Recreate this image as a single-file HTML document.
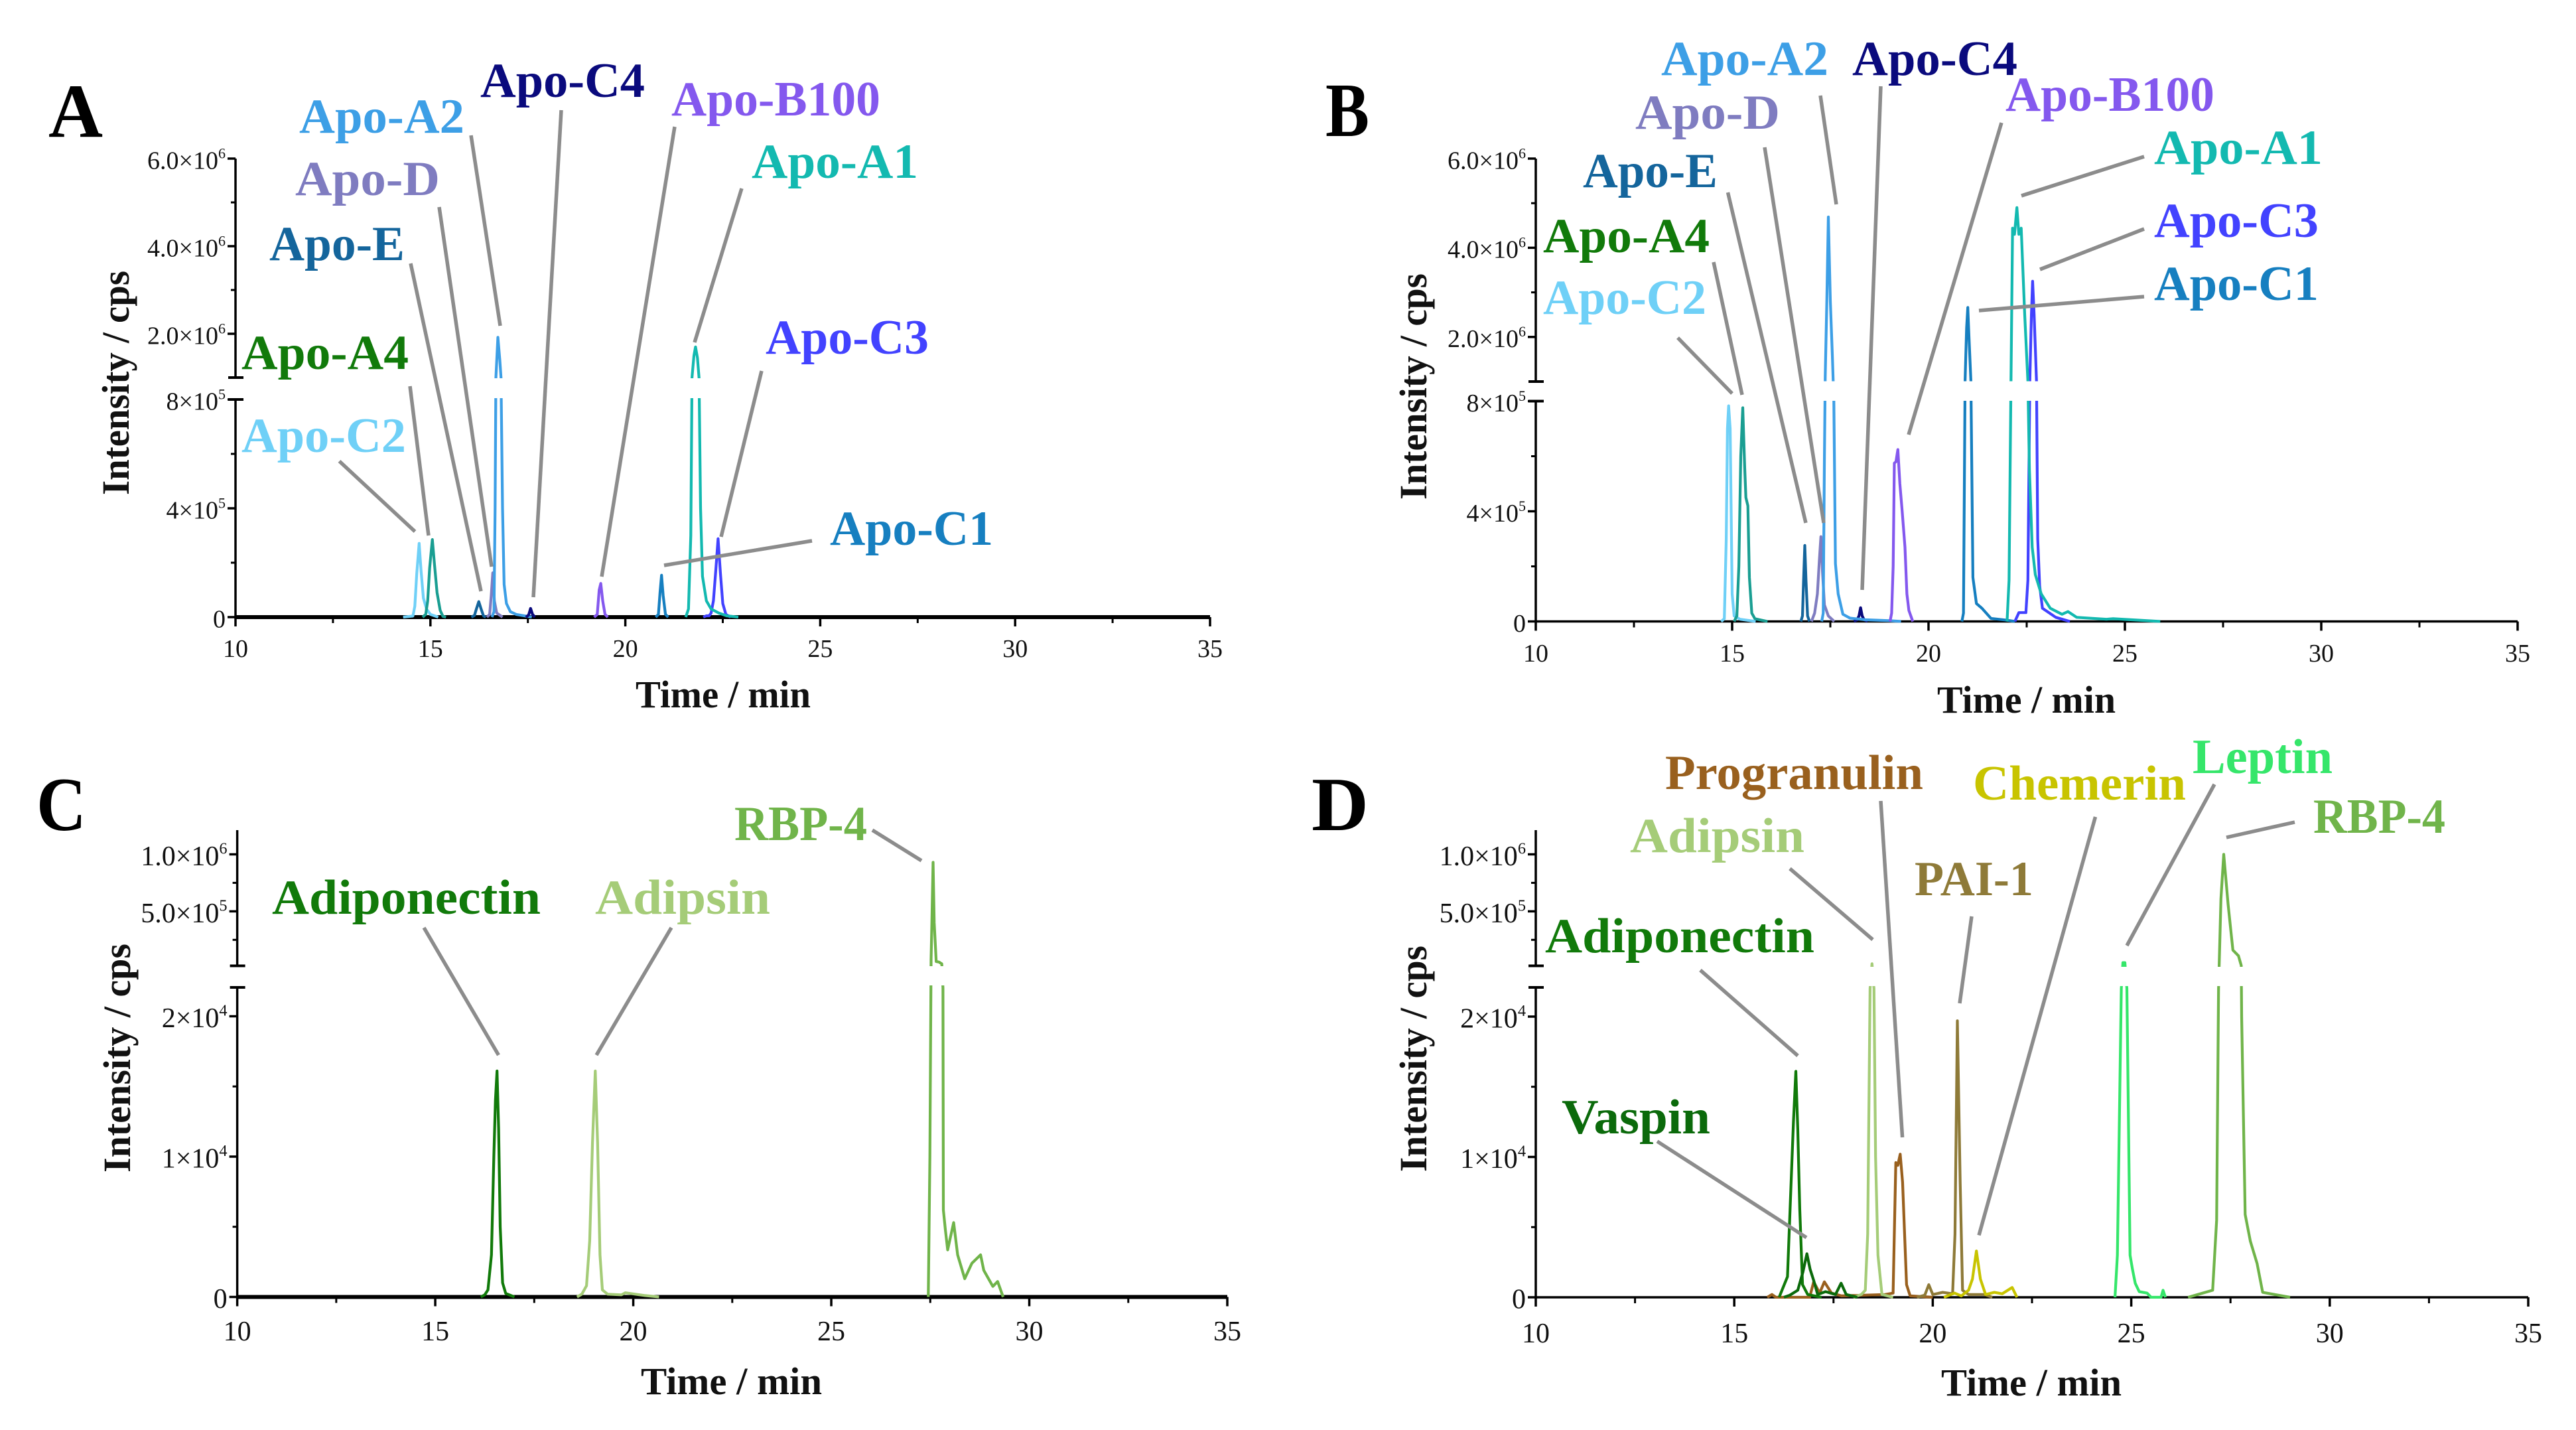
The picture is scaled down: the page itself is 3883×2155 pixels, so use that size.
<!DOCTYPE html>
<html lang="en">
<head>
<meta charset="utf-8">
<title>Chromatograms of apolipoproteins and adipokines</title>
<style>
html,body{margin:0;padding:0;background:#fff;}
svg{display:block;}
text{font-family:"Liberation Serif",serif;}
.lab{font-size:74px;font-weight:bold;}
.let{font-size:115px;font-weight:bold;fill:#000;}
.ttl{font-size:58px;font-weight:bold;fill:#111;}
.lead{stroke:#8c8c8c;stroke-width:5.5;fill:none;}
</style>
</head>
<body>
<svg id="figure" xmlns="http://www.w3.org/2000/svg" width="3883" height="2155" viewBox="0 0 3883 2155">
<rect x="0" y="0" width="3883" height="2155" fill="#fff"/>
<defs id="clips"></defs>
<g id="panel-a"></g>
<g id="panel-b"></g>
<g id="panel-c"></g>
<g id="panel-d"></g>

<g>
<text class="let" x="73" y="206" textLength="82" lengthAdjust="spacingAndGlyphs">A</text>
<text class="let" x="1998" y="205" textLength="66" lengthAdjust="spacingAndGlyphs">B</text>
<text class="let" x="55" y="1251" textLength="75" lengthAdjust="spacingAndGlyphs">C</text>
<text class="let" x="1977" y="1251" textLength="86" lengthAdjust="spacingAndGlyphs">D</text>
</g>

<g>
<text class="ttl" x="958" y="1066" textLength="264" lengthAdjust="spacingAndGlyphs">Time / min</text>
<text class="ttl" x="2920" y="1074" textLength="269" lengthAdjust="spacingAndGlyphs">Time / min</text>
<text class="ttl" x="966" y="2101" textLength="273" lengthAdjust="spacingAndGlyphs">Time / min</text>
<text class="ttl" x="2926" y="2103" textLength="272" lengthAdjust="spacingAndGlyphs">Time / min</text>
<text class="ttl" transform="translate(194,746) rotate(-90)" textLength="338" lengthAdjust="spacingAndGlyphs">Intensity / cps</text>
<text class="ttl" transform="translate(2150,753) rotate(-90)" textLength="341" lengthAdjust="spacingAndGlyphs">Intensity / cps</text>
<text class="ttl" transform="translate(196,1767) rotate(-90)" textLength="345" lengthAdjust="spacingAndGlyphs">Intensity / cps</text>
<text class="ttl" transform="translate(2150,1766) rotate(-90)" textLength="341" lengthAdjust="spacingAndGlyphs">Intensity / cps</text>
</g>

<g>
<line class="lead" x1="511.5" y1="695" x2="625.5" y2="801"/>
<line class="lead" x1="618" y1="582" x2="646" y2="807"/>
<line class="lead" x1="619" y1="397" x2="725" y2="891"/>
<line class="lead" x1="662" y1="312" x2="741" y2="854"/>
<line class="lead" x1="710" y1="204" x2="754" y2="491"/>
<line class="lead" x1="846" y1="166" x2="804" y2="900"/>
<line class="lead" x1="1017" y1="191" x2="907" y2="869"/>
<line class="lead" x1="1118" y1="284" x2="1047" y2="516"/>
<line class="lead" x1="1148" y1="559" x2="1087" y2="809"/>
<line class="lead" x1="1224" y1="815" x2="1001" y2="852"/>
</g>
<g>
<line class="lead" x1="2529" y1="509" x2="2611" y2="593"/>
<line class="lead" x1="2583" y1="395" x2="2626" y2="595"/>
<line class="lead" x1="2604.5" y1="290" x2="2722" y2="788"/>
<line class="lead" x1="2660" y1="222" x2="2749" y2="788"/>
<line class="lead" x1="2744" y1="144" x2="2768" y2="308"/>
<line class="lead" x1="2835" y1="130" x2="2807" y2="889"/>
<line class="lead" x1="3017" y1="185" x2="2877" y2="655"/>
<line class="lead" x1="3232" y1="236" x2="3047" y2="295"/>
<line class="lead" x1="3232" y1="345" x2="3075" y2="406"/>
<line class="lead" x1="3232" y1="447" x2="2983" y2="468"/>
</g>
<g>
<line class="lead" x1="1315" y1="1251" x2="1389" y2="1297"/>
<line class="lead" x1="639" y1="1398" x2="751.5" y2="1590"/>
<line class="lead" x1="1012" y1="1398" x2="899" y2="1590"/>
</g>
<g>
<line class="lead" x1="3459" y1="1239" x2="3356" y2="1262"/>
<line class="lead" x1="3338" y1="1182" x2="3206" y2="1425"/>
<line class="lead" x1="3158.5" y1="1231" x2="2983" y2="1861.5"/>
<line class="lead" x1="2835" y1="1207" x2="2867.6" y2="1714"/>
<line class="lead" x1="2972" y1="1381" x2="2954" y2="1512"/>
<line class="lead" x1="2698" y1="1309" x2="2823" y2="1416"/>
<line class="lead" x1="2563" y1="1462" x2="2710" y2="1591"/>
<line class="lead" x1="2498" y1="1720" x2="2723" y2="1865"/>
</g>

<g>
<text class="lab" fill="#0a0a7d" x="724" y="146" textLength="248" lengthAdjust="spacingAndGlyphs">Apo-C4</text>
<text class="lab" fill="#3d9fe6" x="451" y="200" textLength="249" lengthAdjust="spacingAndGlyphs">Apo-A2</text>
<text class="lab" fill="#8458ee" x="1012" y="174" textLength="315" lengthAdjust="spacingAndGlyphs">Apo-B100</text>
<text class="lab" fill="#7f7cc0" x="445" y="294" textLength="218" lengthAdjust="spacingAndGlyphs">Apo-D</text>
<text class="lab" fill="#13b9b0" x="1133" y="268" textLength="251" lengthAdjust="spacingAndGlyphs">Apo-A1</text>
<text class="lab" fill="#14659c" x="406" y="392" textLength="204" lengthAdjust="spacingAndGlyphs">Apo-E</text>
<text class="lab" fill="#117a0a" x="364" y="556" textLength="252" lengthAdjust="spacingAndGlyphs">Apo-A4</text>
<text class="lab" fill="#4242ff" x="1154" y="533" textLength="246" lengthAdjust="spacingAndGlyphs">Apo-C3</text>
<text class="lab" fill="#6fd0f7" x="364" y="681" textLength="248" lengthAdjust="spacingAndGlyphs">Apo-C2</text>
<text class="lab" fill="#167fc0" x="1251" y="821" textLength="246" lengthAdjust="spacingAndGlyphs">Apo-C1</text>
</g>
<g>
<text class="lab" fill="#3d9fe6" x="2504" y="113" textLength="252" lengthAdjust="spacingAndGlyphs">Apo-A2</text>
<text class="lab" fill="#0a0a7d" x="2792" y="113" textLength="249" lengthAdjust="spacingAndGlyphs">Apo-C4</text>
<text class="lab" fill="#8458ee" x="3023" y="167" textLength="315" lengthAdjust="spacingAndGlyphs">Apo-B100</text>
<text class="lab" fill="#7f7cc0" x="2465" y="194" textLength="218" lengthAdjust="spacingAndGlyphs">Apo-D</text>
<text class="lab" fill="#13b9b0" x="3247" y="247" textLength="254" lengthAdjust="spacingAndGlyphs">Apo-A1</text>
<text class="lab" fill="#14659c" x="2386" y="282" textLength="203" lengthAdjust="spacingAndGlyphs">Apo-E</text>
<text class="lab" fill="#117a0a" x="2326" y="380" textLength="251" lengthAdjust="spacingAndGlyphs">Apo-A4</text>
<text class="lab" fill="#4242ff" x="3247" y="357" textLength="248" lengthAdjust="spacingAndGlyphs">Apo-C3</text>
<text class="lab" fill="#6fd0f7" x="2326" y="473" textLength="246" lengthAdjust="spacingAndGlyphs">Apo-C2</text>
<text class="lab" fill="#167fc0" x="3247" y="452" textLength="248" lengthAdjust="spacingAndGlyphs">Apo-C1</text>
</g>
<g>
<text class="lab" fill="#70b44a" x="1107" y="1266" textLength="200" lengthAdjust="spacingAndGlyphs">RBP-4</text>
<text class="lab" fill="#117a0a" x="410" y="1377" textLength="405" lengthAdjust="spacingAndGlyphs">Adiponectin</text>
<text class="lab" fill="#a5cc78" x="897" y="1377" textLength="264" lengthAdjust="spacingAndGlyphs">Adipsin</text>
</g>
<g>
<text class="lab" fill="#99601e" x="2510" y="1189" textLength="389" lengthAdjust="spacingAndGlyphs">Progranulin</text>
<text class="lab" fill="#c8c400" x="2974" y="1205" textLength="321" lengthAdjust="spacingAndGlyphs">Chemerin</text>
<text class="lab" fill="#35e66a" x="3305" y="1165" textLength="211" lengthAdjust="spacingAndGlyphs">Leptin</text>
<text class="lab" fill="#70b44a" x="3487" y="1255" textLength="199" lengthAdjust="spacingAndGlyphs">RBP-4</text>
<text class="lab" fill="#a5cc78" x="2457" y="1284" textLength="263" lengthAdjust="spacingAndGlyphs">Adipsin</text>
<text class="lab" fill="#8e7a38" x="2886" y="1349" textLength="179" lengthAdjust="spacingAndGlyphs">PAI-1</text>
<text class="lab" fill="#117a0a" x="2329" y="1435" textLength="406" lengthAdjust="spacingAndGlyphs">Adiponectin</text>
<text class="lab" fill="#0b6a0b" x="2354" y="1708" textLength="224" lengthAdjust="spacingAndGlyphs">Vaspin</text>
</g>
</svg>

<script>
// ---------- shared x axis ----------
const timeMajorTicks = [10, 15, 20, 25, 30, 35];
const timeMinorTicks = [12.5, 17.5, 22.5, 27.5, 32.5];

// ---------- y tick values and labels ----------
const abLowerTicks = [0, 400000, 800000];
const abLowerLabels = ['0', '4×10', '8×10'];
const abLowerExponents = ['', '5', '5'];
const abLowerMinor = [200000, 600000];
const abUpperTicks = [2000000, 4000000, 6000000];
const abUpperLabels = ['2.0×10', '4.0×10', '6.0×10'];
const abUpperExponents = ['6', '6', '6'];
const abUpperMinor = [3000000, 5000000];
const cdLowerTicks = [0, 10000, 20000];
const cdLowerLabels = ['0', '1×10', '2×10'];
const cdLowerExponents = ['', '4', '4'];
const cdLowerMinor = [5000, 15000];
const cdUpperTicks = [500000, 1000000];
const cdUpperLabels = ['5.0×10', '1.0×10'];
const cdUpperExponents = ['5', '6'];
const cdUpperMinor = [250000, 750000];

// ---------- panel A series ----------
const aC2Time = [14.3, 14.55, 14.6, 14.65, 14.71, 14.76, 14.82, 14.9, 15.0, 15.2];
const aC2Intensity = [0, 4000, 40000, 160000, 271000, 170000, 70000, 30000, 10000, 0];
const aA4Time = [14.8, 14.88, 14.93, 14.98, 15.05, 15.1, 15.17, 15.25, 15.32, 15.4];
const aA4Intensity = [0, 10000, 60000, 180000, 285000, 200000, 90000, 25000, 3000, 0];
const aETime = [16.05, 16.13, 16.18, 16.24, 16.3, 16.36, 16.42];
const aEIntensity = [0, 6000, 30000, 57000, 30000, 5000, 0];
const aDTime = [16.45, 16.52, 16.56, 16.6, 16.64, 16.7, 16.85];
const aDIntensity = [0, 10000, 80000, 163000, 60000, 15000, 0];
const aA2Time = [16.58, 16.63, 16.66, 16.68, 16.73, 16.78, 16.81, 16.85, 16.89, 16.95, 17.05, 17.2, 17.6];
const aA2Intensity = [0, 20000, 400000, 1000000, 1920000, 1400000, 1000000, 400000, 120000, 50000, 20000, 10000, 0];
const aC4Time = [17.45, 17.52, 17.57, 17.62, 17.68];
const aC4Intensity = [0, 8000, 32000, 10000, 0];
const aB100Time = [19.2, 19.28, 19.33, 19.37, 19.42, 19.48, 19.55];
const aB100Intensity = [0, 10000, 100000, 124000, 60000, 10000, 0];
const aC1Time = [20.78, 20.85, 20.89, 20.93, 20.97, 21.03, 21.1];
const aC1Intensity = [0, 10000, 90000, 154000, 80000, 10000, 0];
const aA1Time = [21.55, 21.62, 21.68, 21.71, 21.76, 21.8, 21.85, 21.89, 21.93, 21.98, 22.08, 22.2, 22.4, 22.6, 22.9];
const aA1Intensity = [0, 30000, 300000, 1000000, 1500000, 1700000, 1450000, 1000000, 400000, 150000, 60000, 30000, 15000, 5000, 0];
const aC3Time = [22.0, 22.08, 22.15, 22.2, 22.26, 22.32, 22.38, 22.44, 22.5, 22.58, 22.7];
const aC3Intensity = [0, 5000, 5000, 15000, 60000, 170000, 288000, 160000, 50000, 10000, 0];

// ---------- panel B series ----------
const bC2Time = [14.72, 14.8, 14.85, 14.88, 14.91, 14.95, 15.0, 15.05, 15.2, 15.6];
const bC2Intensity = [0, 10000, 300000, 700000, 783000, 700000, 100000, 20000, 8000, 0];
const bA4Time = [15.05, 15.12, 15.17, 15.22, 15.27, 15.32, 15.35, 15.4, 15.44, 15.5, 15.58, 15.9];
const bA4Intensity = [0, 20000, 200000, 600000, 776000, 560000, 450000, 420000, 160000, 30000, 10000, 0];
const bETime = [16.75, 16.79, 16.82, 16.85, 16.88, 16.92, 16.97];
const bEIntensity = [0, 20000, 150000, 276000, 150000, 20000, 0];
const bDTime = [17.02, 17.1, 17.17, 17.22, 17.26, 17.3, 17.35, 17.45, 17.6];
const bDIntensity = [0, 30000, 100000, 220000, 308000, 180000, 60000, 20000, 0];
const bA2Time = [17.28, 17.32, 17.35, 17.37, 17.41, 17.45, 17.5, 17.55, 17.59, 17.63, 17.7, 17.82, 18, 18.4, 19, 19.3];
const bA2Intensity = [0, 30000, 600000, 1100000, 2800000, 4690000, 2800000, 1600000, 800000, 210000, 100000, 26000, 12000, 6000, 3000, 0];
const bC4Time = [18.1, 18.18, 18.23, 18.27, 18.31, 18.36, 18.45];
const bC4Intensity = [0, 6000, 20000, 50000, 20000, 6000, 0];
const bB100Time = [19.02, 19.06, 19.1, 19.13, 19.17, 19.22, 19.27, 19.33, 19.4, 19.45, 19.5, 19.6];
const bB100Intensity = [0, 30000, 200000, 575000, 580000, 624000, 500000, 400000, 270000, 100000, 40000, 0];
const bC1Time = [20.85, 20.89, 20.93, 20.97, 21.0, 21.03, 21.08, 21.13, 21.22, 21.36, 21.59, 21.97, 22.2];
const bC1Intensity = [0, 30000, 1000000, 2200000, 2660000, 2000000, 1000000, 160000, 65000, 48000, 11000, 5000, 0];
const bA1Time = [22.0, 22.05, 22.1, 22.14, 22.19, 22.25, 22.3, 22.36, 22.45, 22.53, 22.57, 22.64, 22.72, 22.87, 23.1, 23.4, 23.55, 23.77, 24.53, 24.7, 25.9];
const bA1Intensity = [0, 150000, 1000000, 4440000, 4300000, 4900000, 4300000, 4440000, 2500000, 1000000, 550000, 270000, 170000, 100000, 48000, 26000, 36000, 15000, 8000, 10000, 0];
const bC3Time = [22.2, 22.3, 22.48, 22.53, 22.58, 22.62, 22.65, 22.69, 22.75, 22.78, 22.83, 22.9, 23.24, 23.6];
const bC3Intensity = [0, 32000, 32000, 150000, 1000000, 2500000, 3250000, 2500000, 1000000, 300000, 130000, 48000, 15000, 0];

// ---------- panel C series ----------
const cAdiponectinTime = [16.15, 16.25, 16.33, 16.42, 16.48, 16.52, 16.56, 16.6, 16.64, 16.7, 16.78, 17.0];
const cAdiponectinIntensity = [0, 150, 500, 3000, 10000, 14000, 16100, 12000, 5000, 1000, 250, 0];
const cAdipsinTime = [18.58, 18.7, 18.82, 18.9, 18.97, 19.04, 19.1, 19.16, 19.22, 19.35, 19.7, 19.8, 20.3, 20.65];
const cAdipsinIntensity = [0, 200, 800, 4000, 11000, 16100, 11000, 3000, 500, 200, 150, 300, 100, 0];
const cRbp4Time = [27.45, 27.49, 27.52, 27.54, 27.57, 27.6, 27.65, 27.72, 27.79, 27.82, 27.83, 27.88, 27.94, 28.09, 28.19, 28.37, 28.55, 28.77, 28.85, 29.08, 29.2, 29.34];
const cRbp4Intensity = [0, 10000, 80000, 400000, 930000, 400000, 60000, 55000, 40000, 22000, 6200, 4800, 3350, 5300, 3000, 1300, 2400, 3000, 1900, 750, 1100, 0];

// ---------- panel D series ----------
const dProgranulinTime = [15.83, 15.95, 16.05, 16.9, 17.0, 17.15, 17.27, 17.45, 17.7, 18.8, 19.0, 19.07, 19.12, 19.18, 19.24, 19.34, 19.43, 20.0];
const dProgranulinIntensity = [0, 200, 0, 0, 1100, 300, 1100, 300, 100, 200, 300, 9600, 9400, 10200, 8200, 900, 100, 0];
const dAdiponectinTime = [16.13, 16.34, 16.43, 16.49, 16.55, 16.6, 16.65, 16.72, 16.85, 17.2];
const dAdiponectinIntensity = [0, 1470, 8100, 12500, 16100, 12000, 6300, 900, 200, 0];
const dVaspinTime = [16.25, 16.4, 16.6, 16.73, 16.83, 16.91, 17.0, 17.1, 17.3, 17.55, 17.69, 17.82, 18.1];
const dVaspinIntensity = [0, 150, 500, 1800, 3100, 2000, 1200, 200, 400, 200, 1000, 200, 0];
const dAdipsinTime = [18.0, 18.2, 18.3, 18.36, 18.42, 18.47, 18.52, 18.56, 18.62, 18.72, 19.0];
const dAdipsinIntensity = [0, 200, 500, 4500, 22000, 40000, 22000, 10000, 3000, 200, 0];
const dPai1Time = [19.6, 19.8, 19.9, 20.0, 20.25, 20.5, 20.56, 20.62, 20.69, 20.75, 20.9, 21.3, 21.5];
const dPai1Intensity = [0, 150, 900, 200, 350, 250, 4500, 19700, 8200, 500, 200, 200, 0];
const dChemerinTime = [20.28, 20.55, 20.72, 20.9, 21.0, 21.1, 21.2, 21.33, 21.55, 21.75, 22.0, 22.12];
const dChemerinIntensity = [0, 300, 100, 500, 1300, 3300, 1300, 200, 350, 250, 700, 0];
const dLeptinTime = [24.59, 24.65, 24.75, 24.79, 24.84, 24.89, 24.97, 25.03, 25.1, 25.2, 25.4, 25.5, 25.75, 25.8, 25.86];
const dLeptinIntensity = [0, 3000, 22000, 50000, 50000, 22000, 3000, 2000, 1000, 400, 300, 0, 0, 500, 0];
const dRbp4Time = [26.43, 26.8, 27.05, 27.15, 27.2, 27.26, 27.33, 27.44, 27.56, 27.7, 27.77, 27.78, 27.87, 28.0, 28.17, 28.31, 29.0];
const dRbp4Intensity = [0, 300, 500, 5500, 22000, 610000, 1000000, 560000, 160000, 110000, 25000, 20000, 5900, 4000, 2400, 350, 0];

// ---------- panel layouts ----------
const SVGNS = 'http://www.w3.org/2000/svg';
const panelA = {id: 'a', x10: 355, x35: 1824, y0: 930, lowerScale: 328 / 800000, lowerMax: 800000, lowerTopY: 602,
  upperMin: 1000000, upperBottomY: 569, upperScale: 66 / 1000000, upperTopY: 239, clipLow: 600, clipUp: 570,
  baseWidth: 6, fontSize: 38, tickBaseline: 990, lowerTicks: abLowerTicks, lowerLabels: abLowerLabels, lowerExp: abLowerExponents,
  lowerMinor: abLowerMinor, upperTicks: abUpperTicks, upperLabels: abUpperLabels, upperExp: abUpperExponents, upperMinor: abUpperMinor};
const panelB = {id: 'b', x10: 2315, x35: 3795, y0: 936.5, lowerScale: 332 / 800000, lowerMax: 800000, lowerTopY: 604.5,
  upperMin: 1000000, upperBottomY: 575, upperScale: 67.2 / 1000000, upperTopY: 239, clipLow: 604, clipUp: 574.5,
  baseWidth: 3.5, fontSize: 38, tickBaseline: 997, lowerTicks: abLowerTicks, lowerLabels: abLowerLabels, lowerExp: abLowerExponents,
  lowerMinor: abLowerMinor, upperTicks: abUpperTicks, upperLabels: abUpperLabels, upperExp: abUpperExponents, upperMinor: abUpperMinor};
const panelC = {id: 'c', x10: 357.6, x35: 1850, y0: 1954.5, lowerScale: 211.5 / 10000, lowerMax: 22000, lowerTopY: 1488,
  upperMin: 22000, upperBottomY: 1455.5, upperScale: 171.8 / 1000000, upperTopY: 1251, clipLow: 1485, clipUp: 1456,
  baseWidth: 6, fontSize: 42, tickBaseline: 2020, lowerTicks: cdLowerTicks, lowerLabels: cdLowerLabels, lowerExp: cdLowerExponents,
  lowerMinor: cdLowerMinor, upperTicks: cdUpperTicks, upperLabels: cdUpperLabels, upperExp: cdUpperExponents, upperMinor: cdUpperMinor};
const panelD = {id: 'd', x10: 2315, x35: 3811, y0: 1955, lowerScale: 211.5 / 10000, lowerMax: 22000, lowerTopY: 1488,
  upperMin: 22000, upperBottomY: 1455.5, upperScale: 171.8 / 1000000, upperTopY: 1251, clipLow: 1486, clipUp: 1457,
  baseWidth: 3.5, fontSize: 42, tickBaseline: 2023, lowerTicks: cdLowerTicks, lowerLabels: cdLowerLabels, lowerExp: cdLowerExponents,
  lowerMinor: cdLowerMinor, upperTicks: cdUpperTicks, upperLabels: cdUpperLabels, upperExp: cdUpperExponents, upperMinor: cdUpperMinor};

// ---------- axis functions ----------
function xScale(p, t) {
  return p.x10 + (t - 10) * (p.x35 - p.x10) / 25;
}
function yScale(p, v) {
  if (v <= p.lowerMax) return p.y0 - v * p.lowerScale;
  if (v >= p.upperMin) return p.upperBottomY - (v - p.upperMin) * p.upperScale;
  const f = (v - p.lowerMax) / (p.upperMin - p.lowerMax);
  return p.lowerTopY + f * (p.upperBottomY - p.lowerTopY);
}
function shape(tag, attrs, parent) {
  const el = document.createElementNS(SVGNS, tag);
  for (const k in attrs) el.setAttribute(k, attrs[k]);
  parent.appendChild(el);
  return el;
}
function drawTickLabel(p, g, label, exponent, y, name) {
  const el = shape('text', {x: p.x10 - 15, y: y + p.fontSize * 0.35 + 2, 'text-anchor': 'end', fill: '#111', 'font-size': p.fontSize}, g);
  
  
  el.appendChild(document.createTextNode(label));
  if (exponent) {
    const sup = shape('tspan', {dy: -p.fontSize * 0.42, 'font-size': p.fontSize * 0.58}, el);
    sup.textContent = exponent;
  }
}
function drawAxes(p) {
  const g = document.getElementById('panel-' + p.id);
  const clip = shape('clipPath', {id: 'clip-' + p.id}, document.getElementById('clips'));
  shape('rect', {x: p.x10 - 4, y: p.upperTopY - 10, width: p.x35 - p.x10 + 8, height: p.clipUp - p.upperTopY + 10}, clip);
  shape('rect', {x: p.x10 - 4, y: p.clipLow, width: p.x35 - p.x10 + 8, height: p.y0 - p.clipLow + 2}, clip);

  const ax = shape('g', {}, g);
  
  
  const xLine = shape('line', {x1: p.x10, y1: p.y0, x2: p.x35, y2: p.y0, stroke: '#000', 'stroke-width': p.baseWidth}, ax);
  
  
  const yLow = shape('line', {x1: p.x10, y1: p.lowerTopY, x2: p.x10, y2: p.y0 + 2, stroke: '#000', 'stroke-width': 3.5}, ax);
  
  
  const yUp = shape('line', {x1: p.x10, y1: p.upperTopY, x2: p.x10, y2: p.upperBottomY, stroke: '#000', 'stroke-width': 3.5}, ax);
  
  
  const brkU = shape('line', {x1: p.x10 - 11, y1: p.upperBottomY, x2: p.x10 + 12, y2: p.upperBottomY, stroke: '#000', 'stroke-width': 4}, ax);
  
  
  const brkL = shape('line', {x1: p.x10 - 11, y1: p.lowerTopY, x2: p.x10 + 12, y2: p.lowerTopY, stroke: '#000', 'stroke-width': 4}, ax);
  
  

  timeMajorTicks.forEach(function (t) {
    const x = xScale(p, t);
    const tick = shape('line', {x1: x, y1: p.y0, x2: x, y2: p.y0 + 14, stroke: '#000', 'stroke-width': 3.5}, ax);
    
    
    const lab = shape('text', {x: x, y: p.tickBaseline, 'text-anchor': 'middle', fill: '#111', 'font-size': p.fontSize}, ax);
    
    
    lab.textContent = String(t);
  });
  timeMinorTicks.forEach(function (t) {
    const x = xScale(p, t);
    const tick = shape('line', {x1: x, y1: p.y0, x2: x, y2: p.y0 + 9, stroke: '#000', 'stroke-width': 3}, ax);
    
    
  });
  [[p.lowerTicks, p.lowerLabels, p.lowerExp], [p.upperTicks, p.upperLabels, p.upperExp]].forEach(function (set) {
    set[0].forEach(function (v, i) {
      const y = yScale(p, v);
      const tick = shape('line', {x1: p.x10 - 12, y1: y, x2: p.x10, y2: y, stroke: '#000', 'stroke-width': 3.5}, ax);
      
      
      drawTickLabel(p, ax, set[1][i], set[2][i], y, 'y-tick-label');
    });
  });
  p.lowerMinor.concat(p.upperMinor).forEach(function (v) {
    const y = yScale(p, v);
    const tick = shape('line', {x1: p.x10 - 7, y1: y, x2: p.x10, y2: y, stroke: '#000', 'stroke-width': 3}, ax);
    
    
  });
}
function drawSeries(p, name, color, times, values) {
  const g = document.getElementById('panel-' + p.id);
  const pts = times.map(function (t, i) {
    return xScale(p, t).toFixed(1) + ',' + yScale(p, values[i]).toFixed(1);
  }).join(' ');
  const line = shape('polyline', {points: pts, fill: 'none', stroke: color, 'stroke-width': 4.2, 'stroke-linejoin': 'round', 'clip-path': 'url(#clip-' + p.id + ')'}, g);
  
  
}

[panelA, panelB, panelC, panelD].forEach(drawAxes);

drawSeries(panelA, 'apo-c2', '#6fd0f7', aC2Time, aC2Intensity);
drawSeries(panelA, 'apo-a4', '#1a9e92', aA4Time, aA4Intensity);
drawSeries(panelA, 'apo-e', '#14659c', aETime, aEIntensity);
drawSeries(panelA, 'apo-d', '#7f7cc0', aDTime, aDIntensity);
drawSeries(panelA, 'apo-a2', '#3d9fe6', aA2Time, aA2Intensity);
drawSeries(panelA, 'apo-c4', '#0a0a7d', aC4Time, aC4Intensity);
drawSeries(panelA, 'apo-b100', '#8458ee', aB100Time, aB100Intensity);
drawSeries(panelA, 'apo-c1', '#167fc0', aC1Time, aC1Intensity);
drawSeries(panelA, 'apo-c3', '#4242ff', aC3Time, aC3Intensity);
drawSeries(panelA, 'apo-a1', '#13b9b0', aA1Time, aA1Intensity);

drawSeries(panelB, 'apo-c2', '#6fd0f7', bC2Time, bC2Intensity);
drawSeries(panelB, 'apo-a4', '#1a9e92', bA4Time, bA4Intensity);
drawSeries(panelB, 'apo-e', '#14659c', bETime, bEIntensity);
drawSeries(panelB, 'apo-d', '#7f7cc0', bDTime, bDIntensity);
drawSeries(panelB, 'apo-c4', '#0a0a7d', bC4Time, bC4Intensity);
drawSeries(panelB, 'apo-a2', '#3d9fe6', bA2Time, bA2Intensity);
drawSeries(panelB, 'apo-b100', '#8458ee', bB100Time, bB100Intensity);
drawSeries(panelB, 'apo-c1', '#167fc0', bC1Time, bC1Intensity);
drawSeries(panelB, 'apo-c3', '#4242ff', bC3Time, bC3Intensity);
drawSeries(panelB, 'apo-a1', '#13b9b0', bA1Time, bA1Intensity);

drawSeries(panelC, 'adiponectin', '#117a0a', cAdiponectinTime, cAdiponectinIntensity);
drawSeries(panelC, 'adipsin', '#a5cc78', cAdipsinTime, cAdipsinIntensity);
drawSeries(panelC, 'rbp-4', '#70b44a', cRbp4Time, cRbp4Intensity);

drawSeries(panelD, 'progranulin', '#99601e', dProgranulinTime, dProgranulinIntensity);
drawSeries(panelD, 'adipsin', '#a5cc78', dAdipsinTime, dAdipsinIntensity);
drawSeries(panelD, 'adiponectin', '#117a0a', dAdiponectinTime, dAdiponectinIntensity);
drawSeries(panelD, 'vaspin', '#0b6a0b', dVaspinTime, dVaspinIntensity);
drawSeries(panelD, 'pai-1', '#8e7a38', dPai1Time, dPai1Intensity);
drawSeries(panelD, 'chemerin', '#c8c400', dChemerinTime, dChemerinIntensity);
drawSeries(panelD, 'leptin', '#35e66a', dLeptinTime, dLeptinIntensity);
drawSeries(panelD, 'rbp-4', '#70b44a', dRbp4Time, dRbp4Intensity);
</script>
</body>
</html>
